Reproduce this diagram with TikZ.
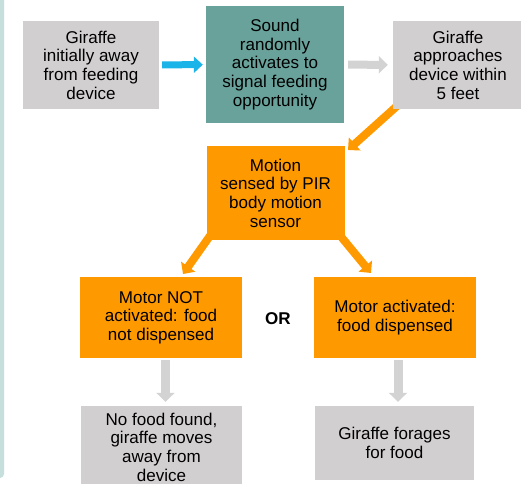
\documentclass[tikz,border=0pt]{standalone}
\usepackage{fontspec}
\setmainfont{Liberation Sans}
\usetikzlibrary{arrows.meta,calc}

\definecolor{boxgray}{HTML}{D2CFD0}
\definecolor{boxteal}{HTML}{68A29A}
\definecolor{boxorange}{HTML}{FF9900}
\definecolor{arrblue}{HTML}{1AB4E8}
\definecolor{arrgray}{HTML}{D4D3D3}
\definecolor{framecol}{HTML}{C6DFDC}

\tikzset{
  box/.style={inner sep=0pt, align=center, text=black,
    font=\fontsize{17.1}{18.7}\selectfont},
  graybox/.style={box, fill=boxgray},
  tealbox/.style={box, fill=boxteal},
  orangebox/.style={box, fill=boxorange},
  blockarrow/.style={line width=#1, -{Triangle[length=9bp,width=#1+9bp]}},
}

\begin{document}
\begin{tikzpicture}[x=1bp,y=-1bp]
\useasboundingbox (0,0) rectangle (521,484);
\fill [framecol, rounded corners=4bp] (-8,-8) rectangle (4,478);

% arrows first, the boxes cover their tails
\coordinate (t1) at (348,150);
\coordinate (t2) at (183,274);
\coordinate (s2) at (212,233);
\coordinate (t3) at (371,273);
\coordinate (s3) at (338,233);
\draw [boxorange, blockarrow=8bp] (397,106) -- (t1);
\draw [boxorange, blockarrow=8bp] (s2) -- (t2);
\draw [boxorange, blockarrow=8bp] (s3) -- (t3);

% top row
\node [graybox, minimum width=136bp, minimum height=88bp] (away) at (91,65)
  {Giraffe\\initially away\\from feeding\\device};
\node [tealbox, minimum width=138bp, minimum height=117bp] (sound) at (275,64.5)
  {Sound\\randomly\\activates to\\signal feeding\\opportunity};
\node [graybox, minimum width=130bp, minimum height=88bp] (near) at (458,65)
  {Giraffe\\approaches\\device within\\5 feet};

% sensor
\node [orangebox, minimum width=138bp, minimum height=94bp] (motion) at (275.5,193)
  {Motion\\sensed by PIR\\body motion\\sensor};

% the two outcomes
\node [orangebox, minimum width=162bp, minimum height=81bp] (nomotor) at (161,317.5)
  {Motor NOT\\activated: food\\not dispensed};
\node [orangebox, minimum width=162bp, minimum height=81bp] (motor) at (395,317.5)
  {Motor activated:\\food dispensed};
\node [box] (or) at (278,319) {\textbf{OR}};

% results
\node [graybox, minimum width=161bp, minimum height=82bp] (leave) at (161.5,447)
  {No food found,\\giraffe moves\\away from\\device};
\node [graybox, minimum width=159bp, minimum height=74bp] (forage) at (394.5,443)
  {Giraffe forages\\for food};

\draw [arrblue, blockarrow=7bp, shorten <=3bp, shorten >=3bp] (away) -- (sound);
\draw [arrgray, blockarrow=8bp, shorten <=4bp, shorten >=5bp] (sound) -- (near);
\coordinate (d1) at (165.5,360);
\coordinate (d2) at (398,360);
\draw [arrgray, blockarrow=9bp, shorten >=4bp] (d1) -- (d1 |- leave.north);
\draw [arrgray, blockarrow=9bp, shorten >=4bp] (d2) -- (d2 |- forage.north);
\end{tikzpicture}
\end{document}
